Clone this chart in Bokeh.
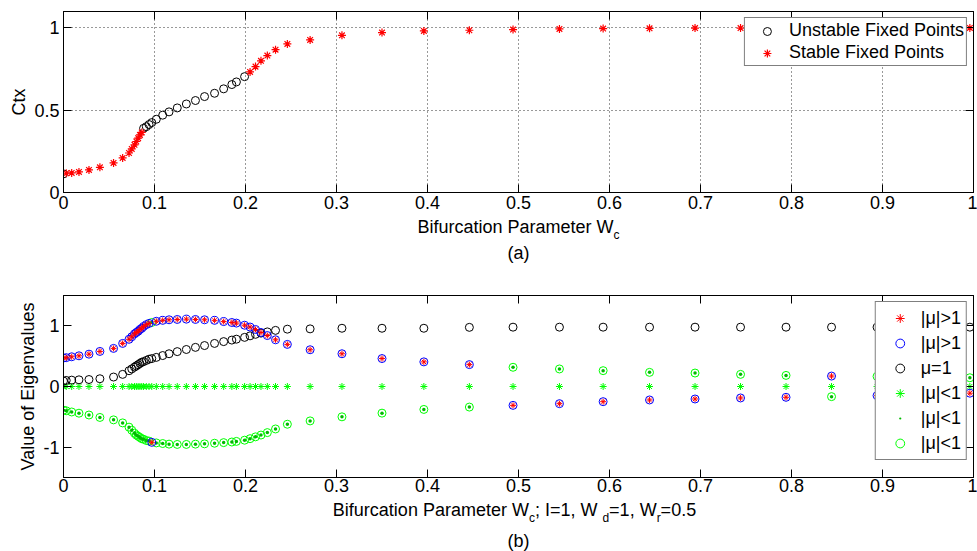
from bokeh.plotting import figure
from bokeh.models import FixedTicker, LinearAxis, Range1d, Legend, LegendItem, Label
from bokeh.layouts import column
from bokeh.embed import file_html
from bokeh.resources import INLINE

FONT = "Liberation Sans"

# ---------------- data ----------------
# (a) fixed points of Ctx versus W_c
wc_unstable = [0.000, 0.088, 0.091, 0.094, 0.097, 0.102, 0.109, 0.116, 0.125, 0.135,
               0.145, 0.155, 0.166, 0.176, 0.185, 0.190, 0.199]
ctx_unstable = [0.113, 0.390, 0.400, 0.413, 0.425, 0.445, 0.470, 0.490, 0.514, 0.538,
                0.559, 0.583, 0.603, 0.630, 0.656, 0.672, 0.704]

wc_stable = [0.003, 0.009, 0.017, 0.028, 0.040, 0.055, 0.065, 0.072, 0.075, 0.078,
             0.080, 0.082, 0.084, 0.086, 0.205, 0.211, 0.217, 0.224, 0.233, 0.246,
             0.271, 0.306, 0.350, 0.396, 0.446, 0.494, 0.545, 0.593, 0.644, 0.694,
             0.744, 0.794, 0.844, 0.894, 0.944, 0.996]
ctx_stable = [0.117, 0.119, 0.125, 0.137, 0.153, 0.180, 0.210, 0.240, 0.265, 0.290,
              0.310, 0.330, 0.350, 0.365, 0.733, 0.765, 0.800, 0.832, 0.868, 0.903,
              0.927, 0.955, 0.972, 0.982, 0.986, 0.990, 0.994, 0.996, 0.998, 0.999,
              0.999, 0.999, 1.000, 1.000, 1.000, 1.000]

# (b) eigenvalues versus W_c
wc = [0.000, 0.003, 0.009, 0.017, 0.028, 0.040, 0.055, 0.065, 0.072, 0.075,
      0.078, 0.080, 0.082, 0.084, 0.086, 0.088, 0.091, 0.094, 0.097, 0.102,
      0.109, 0.116, 0.125, 0.135, 0.145, 0.155, 0.166, 0.176, 0.185, 0.190,
      0.199, 0.205, 0.211, 0.217, 0.224, 0.233, 0.246, 0.271, 0.306, 0.350,
      0.396, 0.446, 0.494, 0.545, 0.593, 0.644, 0.694, 0.744, 0.794, 0.844,
      0.894, 0.944, 0.996]
mu_gt1 = [0.470, 0.475, 0.490, 0.506, 0.533, 0.578, 0.628, 0.710, 0.778, 0.820,
          0.867, 0.890, 0.910, 0.940, 0.960, 0.990, 1.020, 1.040, -0.920, 1.075,
          1.090, 1.100, 1.105, 1.110, 1.105, 1.100, 1.090, 1.070, 1.055, 1.045,
          1.010, 0.980, 0.940, 0.890, 0.840, 0.770, 0.694, 0.606, 0.540, 0.461,
          0.406, 0.361, -0.311, -0.283, -0.250, -0.222, -0.206, -0.189, -0.178, 0.172,
          -0.150, -0.130, -0.110]
mu_lt1 = [-0.390, -0.400, -0.420, -0.440, -0.470, -0.510, -0.550, -0.600, -0.670, -0.720,
          -0.770, -0.800, -0.820, -0.840, -0.860, -0.870, -0.890, -0.900, 1.055, -0.930,
          -0.940, -0.950, -0.955, -0.955, -0.950, -0.945, -0.935, -0.925, -0.915, -0.905,
          -0.885, -0.860, -0.830, -0.800, -0.760, -0.700, -0.622, -0.567, -0.500, -0.439,
          -0.378, -0.339, 0.317, 0.289, 0.261, 0.233, 0.222, 0.200, 0.183, -0.167,
          0.167, 0.155, 0.144]
mu_one = [0.090, 0.100, 0.105, 0.110, 0.115, 0.128, 0.156, 0.200, 0.260, 0.290,
          0.320, 0.340, 0.360, 0.380, 0.400, 0.410, 0.430, 0.450, 0.460, 0.480,
          0.510, 0.540, 0.575, 0.610, 0.645, 0.675, 0.710, 0.740, 0.765, 0.780,
          0.810, 0.835, 0.860, 0.880, 0.900, 0.925, 0.945, 0.950, 0.960, 0.960,
          0.960, 0.975, 0.978, 0.978, 0.978, 0.978, 0.978, 0.978, 0.978, 0.978,
          0.978, 0.978, 0.978]
mu_zero = [0.0, 0.0, 0.0, 0.0, 0.0, 0.0, 0.0, 0.0, 0.0, 0.0,
           0.0, 0.0, 0.0, 0.0, 0.0, 0.0, 0.0, 0.0, 0.0, 0.0,
           0.0, 0.0, 0.0, 0.0, 0.0, 0.0, 0.0, 0.0, 0.0, 0.0,
           0.0, 0.0, 0.0, 0.0, 0.0, 0.0, 0.0, 0.0, 0.0, 0.0,
           0.0, 0.0, 0.0, 0.0, 0.0, 0.0, 0.0, 0.0, 0.0, 0.0,
           0.0, 0.0, 0.0]

x_ticks = [0, 0.1, 0.2, 0.3, 0.4, 0.5, 0.6, 0.7, 0.8, 0.9, 1]
x_tick_labels = ["0", "0.1", "0.2", "0.3", "0.4", "0.5", "0.6", "0.7", "0.8", "0.9", "1"]
ya_ticks = [0, 0.5, 1]
ya_tick_labels = ["0", "0.5", "1"]
yb_ticks = [-1, 0, 1]
yb_tick_labels = ["-1", "0", "1"]

# ---------------- helpers ----------------
CW = {' ': 278, '(': 333, ')': 333, ',': 278, '.': 278, ';': 278, '=': 584, 'B': 667,
      'I': 278, 'P': 667, 'W': 944, 'a': 556, 'b': 556, 'c': 500, 'd': 556, 'e': 556,
      'f': 278, 'i': 222, 'm': 833, 'n': 556, 'o': 556, 'r': 333, 't': 278, 'u': 556}
W_ALL = 977
BL, BR = 63, 4          # left / right borders shared by every strip


def text_w(s, size):
    return sum(CW.get(ch, 556) for ch in s) * size / 1000.0


def style_axis(ax, ticks, labels, show_labels=True):
    ax.ticker = FixedTicker(ticks=ticks)
    ax.major_tick_in = 8
    ax.major_tick_out = 0
    ax.minor_tick_line_color = None
    ax.axis_line_color = "black"
    ax.major_tick_line_color = "black"
    if show_labels:
        ax.major_label_overrides = dict(zip(ticks, labels))
        ax.major_label_text_font = FONT
        ax.major_label_text_font_size = "18px"
        ax.major_label_text_color = "black"
    else:
        ax.major_label_overrides = {t: "" for t in ticks}
        ax.major_label_text_font_size = "0px"
        ax.major_label_standoff = 0


def make_fig(height, top, bottom, xstandoff, yr, yticks, ylabels, ylabel):
    p = figure(width=W_ALL, height=height, output_backend="svg", toolbar_location=None,
               x_range=Range1d(0, 1), y_range=Range1d(*yr),
               min_border_left=BL, min_border_right=BR, min_border_top=top,
               min_border_bottom=bottom)
    p.background_fill_color = "white"
    p.border_fill_color = "white"
    p.outline_line_color = "black"
    style_axis(p.xaxis[0], x_ticks, x_tick_labels)
    p.xaxis[0].major_label_standoff = xstandoff
    style_axis(p.yaxis[0], yticks, ylabels)
    p.yaxis[0].major_label_standoff = 4
    p.yaxis[0].axis_label = ylabel
    p.yaxis[0].axis_label_text_font = FONT
    p.yaxis[0].axis_label_text_font_size = "18px"
    p.yaxis[0].axis_label_text_font_style = "normal"
    p.yaxis[0].axis_label_text_color = "black"
    p.yaxis[0].axis_label_standoff = 2
    ax_top = LinearAxis()
    style_axis(ax_top, x_ticks, x_tick_labels, show_labels=False)
    p.add_layout(ax_top, "above")
    ax_right = LinearAxis()
    style_axis(ax_right, yticks, ylabels, show_labels=False)
    p.add_layout(ax_right, "right")
    return p


def make_text_fig(height):
    # strip under a panel holding the axis title texts; its data space is pixels
    t = figure(width=W_ALL, height=height, output_backend="svg", toolbar_location=None,
               x_range=Range1d(BL, W_ALL - BR), y_range=Range1d(height, 0),
               x_axis_location=None, y_axis_location=None,
               min_border_left=BL, min_border_right=BR, min_border_top=0,
               min_border_bottom=0)
    t.outline_line_color = None
    t.background_fill_color = "white"
    t.border_fill_color = "white"
    t.grid.visible = False
    return t


def add_title(t, segments, cx, mid_y, sub_drop=8):
    total = sum(text_w(s, 12 if sub else 18) for s, sub in segments)
    x = cx - total / 2.0
    for s, sub in segments:
        size = 12 if sub else 18
        yy = mid_y + (sub_drop if sub else 0)
        t.add_layout(Label(x=x, y=yy, x_units="data", y_units="data",
                           text=s, text_font=FONT, text_font_size=f"{size}px",
                           text_baseline="middle", text_align="left",
                           text_color="black"))
        x += text_w(s, size)


def style_legend(lg, pad, gw, gh, standoff, spacing):
    lg.label_text_font = FONT
    lg.label_text_font_size = "18px"
    lg.label_text_color = "black"
    lg.border_line_color = "black"
    lg.border_line_width = 1
    lg.background_fill_color = "white"
    lg.background_fill_alpha = 1
    lg.padding = pad
    lg.spacing = spacing
    lg.margin = 6
    lg.glyph_width = gw
    lg.glyph_height = gh
    lg.label_height = gh
    lg.label_standoff = standoff


# ---------------- (a) ----------------
pa = make_fig(217, 11, 25, 3, (0, 1.1), ya_ticks, ya_tick_labels, "Ctx")
pa.xgrid.grid_line_color = "#333333"
pa.ygrid.grid_line_color = "#333333"
pa.grid.grid_line_dash = "1 3"
pa.grid.grid_line_width = 1

r_un = pa.scatter(wc_unstable, ctx_unstable, marker="circle", size=8,
                  fill_color=None, line_color="black", line_width=1)
r_st = pa.scatter(wc_stable, ctx_stable, marker="asterisk", size=8,
                  line_color="red", line_width=1.2)

leg_a = Legend(items=[LegendItem(label="Unstable Fixed Points", renderers=[r_un]),
                      LegendItem(label="Stable Fixed Points", renderers=[r_st])],
               location="top_right")
style_legend(leg_a, 2, 40, 20, 2, 1)
pa.add_layout(leg_a)

ta = make_text_fig(53)                      # spans picture rows 217..270
add_title(ta, [("Bifurcation Parameter W", False), ("c", True)], 518, 226 - 217)
add_title(ta, [("(a)", False)], 518, 252 - 217)

# ---------------- (b) ----------------
pb = make_fig(229, 25, 22, 1, (-1.5, 1.5), yb_ticks, yb_tick_labels, "Value of Eigenvalues")
pb.grid.visible = False

r_gc = pb.scatter(wc, mu_lt1, marker="circle", size=8, fill_color=None,
                  line_color="#00ff00", line_width=1)
r_gd = pb.scatter(wc, mu_lt1, marker="dot", size=14, line_color="#00bb00",
                  fill_color="#00bb00")
r_ga = pb.scatter(wc, mu_zero, marker="asterisk", size=7, line_color="#00ff00",
                  line_width=1)
r_k = pb.scatter(wc, mu_one, marker="circle", size=8, fill_color=None,
                 line_color="black", line_width=1)
r_b = pb.scatter(wc, mu_gt1, marker="circle", size=8, fill_color=None,
                 line_color="blue", line_width=1)
r_r = pb.scatter(wc, mu_gt1, marker="asterisk", size=6, line_color="red", line_width=1)

leg_b = Legend(items=[LegendItem(label="|μ|>1", renderers=[r_r]),
                      LegendItem(label="|μ|>1", renderers=[r_b]),
                      LegendItem(label="μ=1", renderers=[r_k]),
                      LegendItem(label="|μ|<1", renderers=[r_ga]),
                      LegendItem(label="|μ|<1", renderers=[r_gd]),
                      LegendItem(label="|μ|<1", renderers=[r_gc])],
               location="top_right")
style_legend(leg_b, 5, 38, 22, 2, 3)
pb.add_layout(leg_b)

tb = make_text_fig(52)                      # spans picture rows 499..551
add_title(tb, [("Bifurcation Parameter W", False), ("c", True), (";  I=1, W", False),
               ("d", True), ("=1, W", False), ("r", True), ("=0.5", False)],
          514, 509.5 - 499)
add_title(tb, [("(b)", False)], 518, 540 - 499)

layout = column(pa, ta, pb, tb)
open("out.html", "w").write(file_html(layout, INLINE))
